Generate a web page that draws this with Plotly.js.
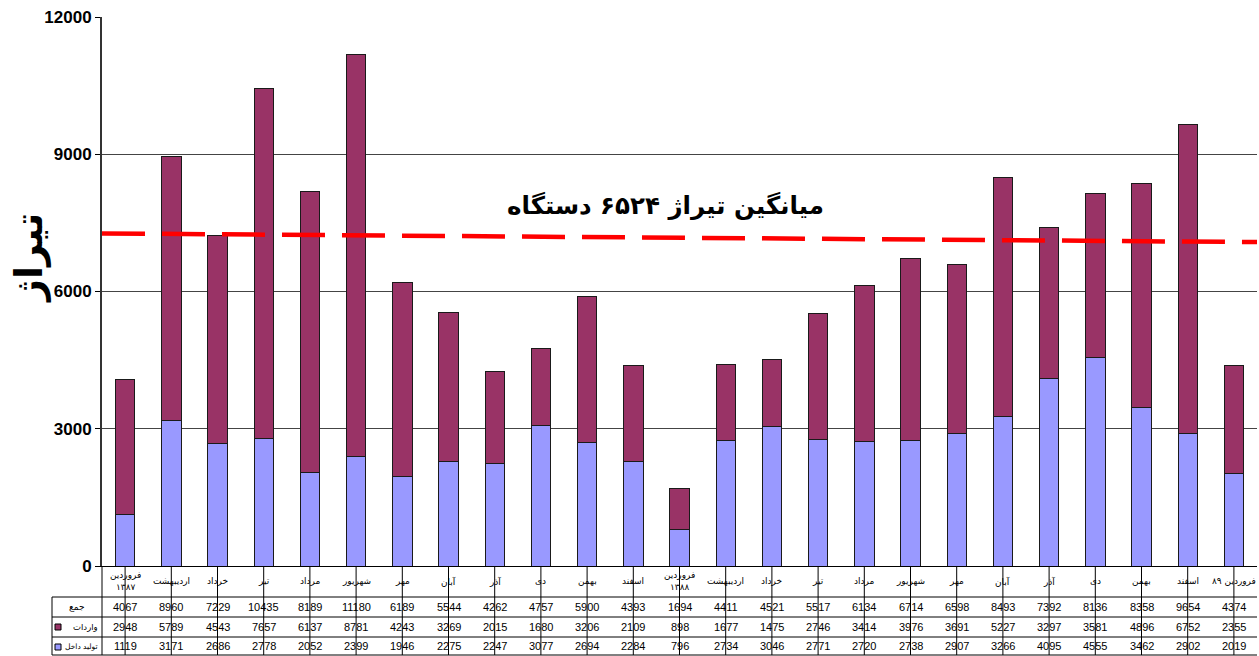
<!DOCTYPE html>
<html>
<head>
<meta charset="utf-8">
<script src="https://cdn.plot.ly/plotly-3.0.1.min.js"></script>
<style>html,body{margin:0;padding:0;background:#fff;}#chart{width:1259px;height:656px;}</style>
</head>
<body>
<div id="chart"></div>
<script>
// ---- data ----
const months = ["فروردین<br>۱۳۸۷","اردیبهشت","خرداد","تیر","مرداد","شهریور","مهر","آبان","آذر","دی","بهمن","اسفند",
  "فروردین<br>۱۳۸۸","اردیبهشت","خرداد","تیر","مرداد","شهریور","مهر","آبان","آذر","دی","بهمن","اسفند","فروردین ۸۹"];
const totals   = [4067,8960,7229,10435,8189,11180,6189,5544,4262,4757,5900,4393,1694,4411,4521,5517,6134,6714,6598,8493,7392,8136,8358,9654,4374];
const imports  = [2948,5789,4543,7657,6137,8781,4243,3269,2015,1680,3206,2109,898,1677,1475,2746,3414,3976,3691,5227,3297,3581,4896,6752,2355];
const domestic = [1119,3171,2686,2778,2052,2399,1946,2275,2247,3077,2694,2284,796,2734,3046,2771,2720,2738,2907,3266,4095,4555,3462,2902,2019];
const rowLabels = ["جمع","واردات","تولید داخل"];
const trendX = [-0.5, 24.5];
const trendY = [7270, 7080];
const yTicks = [0,3000,6000,9000,12000];
const titleText = "میانگین تیراژ ۶۵۲۴ دستگاه";
const yTitle = "تیراژ";

// ---- geometry helpers (layout only) ----
const W = 1259, H = 656, L = 102, R = 2, T = 17, B = 90;
const pw = W - L - R, ph = H - T - B;
const px = x => (x - L) / pw;          // pixel -> paper x
const py = y => (H - B - y) / ph;      // pixel -> paper y
const n = months.length;
const xi = i => (i + 0.5) / n;         // category boundary (after index i) in paper
const idx = months.map((_, i) => i);

const arabicFont = "DejaVu Sans, Noto Sans, sans-serif";
const numFont = "Liberation Sans, Arial, sans-serif";

const traces = [
  {type:"bar", x: idx, y: domestic, name: rowLabels[2],
   marker:{color:"#9999FF", line:{color:"#1a1a1a", width:1}}, hoverinfo:"y"},
  {type:"bar", x: idx, y: imports, name: rowLabels[1],
   marker:{color:"#993366", line:{color:"#1a1a1a", width:1}}, hoverinfo:"y"},
  {type:"scatter", mode:"lines", x: trendX, y: trendY, showlegend:false,
   line:{color:"#FF0000", width:4.5, dash:"43px,17px"}, hoverinfo:"skip"}
];

const shapes = [];
const annotations = [];
const lineStyle = {color:"#000", width:1};
// table rows (pixel y)
const rowYs = [597, 617, 637, 655];
rowYs.forEach(y => shapes.push({type:"line", xref:"paper", yref:"paper", x0:px(52), x1:1, y0:py(y), y1:py(y), line:lineStyle}));
// verticals
shapes.push({type:"line", xref:"paper", yref:"paper", x0:0, x1:0, y0:py(566), y1:py(655), line:lineStyle});
shapes.push({type:"line", xref:"paper", yref:"paper", x0:px(52), x1:px(52), y0:py(597), y1:py(655), line:lineStyle});
for (let i = 0; i < n; i++) {
  shapes.push({type:"line", xref:"paper", yref:"paper", x0:xi(i), x1:xi(i), y0:py(566), y1:py(655), line:lineStyle});
}
// legend keys in row labels
shapes.push({type:"rect", xref:"paper", yref:"paper", x0:px(55), x1:px(61), y0:py(630), y1:py(624), fillcolor:"#993366", line:{color:"#000", width:1}});
shapes.push({type:"rect", xref:"paper", yref:"paper", x0:px(55), x1:px(61), y0:py(650), y1:py(644), fillcolor:"#9999FF", line:{color:"#000", width:1}});

// header labels
months.forEach((m, i) => {
  annotations.push({x:i, xref:"x", y:py(581), yref:"paper", text:m, showarrow:false,
    font:{family:arabicFont, size:9, color:"#000"}, xanchor:"center", yanchor:"middle"});
});
// values
const rows = [totals, imports, domestic];
const rowCenters = [607, 627, 646];
rows.forEach((arr, r) => {
  arr.forEach((v, i) => {
    annotations.push({x:i, xref:"x", y:py(rowCenters[r]), yref:"paper", text:String(v), showarrow:false,
      font:{family:numFont, size:11, color:"#000"}, xanchor:"center", yanchor:"middle"});
  });
});
// row labels
annotations.push({x:px(77), xref:"paper", y:py(607), yref:"paper", text:rowLabels[0], showarrow:false,
  font:{family:arabicFont, size:9, color:"#000"}, xanchor:"center", yanchor:"middle"});
annotations.push({x:px(100), xref:"paper", y:py(627), yref:"paper", text:rowLabels[1], showarrow:false,
  font:{family:arabicFont, size:8.5, color:"#000"}, xanchor:"right", yanchor:"middle"});
annotations.push({x:px(100), xref:"paper", y:py(646), yref:"paper", text:rowLabels[2], showarrow:false,
  font:{family:arabicFont, size:7.5, color:"#000"}, xanchor:"right", yanchor:"middle"});
// chart title text
annotations.push({x:px(665), xref:"paper", y:py(205), yref:"paper", text:"<b>"+titleText+"</b>", showarrow:false,
  font:{family:arabicFont, size:24.5, color:"#000"}, xanchor:"center", yanchor:"middle"});
// y-axis title
annotations.push({x:px(29), xref:"paper", y:py(258), yref:"paper", text:"<b>"+yTitle+"</b>", showarrow:false,
  textangle:-90, font:{family:arabicFont, size:38, color:"#000"}, xanchor:"center", yanchor:"middle"});

const layout = {
  width: W, height: H,
  margin:{l:L, r:R, t:T, b:B, pad:0},
  paper_bgcolor:"#fff", plot_bgcolor:"#fff",
  showlegend:false,
  barmode:"stack", bargap:0.58,
  xaxis:{range:[-0.5, n - 0.5], showticklabels:false, ticks:"", showgrid:false, zeroline:false,
         showline:true, linecolor:"#000", linewidth:1, fixedrange:true},
  yaxis:{range:[0, 12000], tickvals:yTicks, ticktext:yTicks.map(String), ticks:"outside", ticklen:5,
         tickcolor:"#000", showgrid:true, gridcolor:"#444", gridwidth:1, zeroline:false,
         showline:true, linecolor:"#333", linewidth:2,
         tickfont:{family:numFont, size:17, color:"#000", weight:"bold"}, fixedrange:true},
  shapes: shapes,
  annotations: annotations
};

Plotly.newPlot("chart", traces, layout, {displayModeBar:false, staticPlot:true});
</script>
</body>
</html>
